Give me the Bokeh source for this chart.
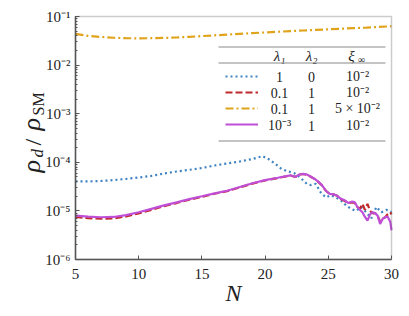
import math
from bokeh.plotting import figure
from bokeh.models import (Label, Legend, LegendItem, BoxAnnotation, LogTicker, LogAxis,
                          LinearAxis, SingleIntervalTicker, Range1d)
from bokeh.embed import file_html
from bokeh.resources import INLINE

# ---------------- data ----------------
N_blue = [5, 6, 7, 8, 9, 10, 11, 12, 13, 14, 15, 16, 17, 18, 19, 19.8, 20.3, 20.8,
          21.3, 21.8, 22.3, 22.8, 23.3, 23.6, 24.0, 24.4, 24.8, 25.2, 25.6, 26.0,
          26.4, 26.8, 27.2, 27.6, 28.0, 28.4, 28.8, 29.2, 29.6, 30]
rho_blue = [4.03e-5, 4.05e-5, 4.12e-5, 4.3e-5, 4.55e-5, 4.87e-5, 5.25e-5, 5.88e-5,
            6.47e-5, 7.0e-5, 7.64e-5, 8.6e-5, 9.45e-5, 1.04e-4, 1.17e-4, 1.34e-4,
            1.15e-4, 9.3e-5, 7.3e-5, 6.5e-5, 6.0e-5, 4.8e-5, 3.6e-5, 3.4e-5, 3.6e-5,
            2.4e-5, 1.9e-5, 2.1e-5, 1.9e-5, 1.64e-5, 1.3e-5, 1.1e-5, 1.0e-5, 1.2e-5,
            9.4e-6, 7.0e-6, 1.2e-5, 9.4e-6, 1.05e-5, 9.5e-6]

N_orange = [5, 6, 7, 8, 9, 10, 11, 12, 13, 14, 15, 16, 17, 18, 19, 20, 21, 22, 23,
            24, 25, 26, 27, 28, 29, 30]
rho_orange = [0.044, 0.040, 0.038, 0.0365, 0.0358, 0.0355, 0.0358, 0.0362, 0.037,
              0.0382, 0.0395, 0.041, 0.0425, 0.044, 0.0455, 0.047, 0.0485, 0.050,
              0.0515, 0.053, 0.0545, 0.056, 0.0575, 0.059, 0.061, 0.063]

N_fine = [5, 6, 7, 8, 9, 10, 11, 12, 13, 14, 15, 16, 17, 18, 19, 20, 21, 22, 22.4,
          22.7, 23.0, 23.3, 23.6, 23.9, 24.2, 24.5, 24.8, 25.1, 25.4, 25.7, 26.0,
          26.3, 26.6, 26.9, 27.1, 27.3, 27.5, 27.7, 27.9, 28.1, 28.3, 28.5, 28.7,
          28.9, 29.1, 29.3, 29.5, 29.7, 29.9, 30]
rho_magenta = [8.0e-6, 7.6e-6, 7.4e-6, 7.5e-6, 8.2e-6, 9.4e-6, 1.1e-5, 1.3e-5, 1.5e-5,
               1.75e-5, 2.0e-5, 2.3e-5, 2.6e-5, 3.1e-5, 3.7e-5, 4.3e-5, 4.8e-5, 5.4e-5,
               5.0e-5, 5.6e-5, 5.8e-5, 5.6e-5, 5.1e-5, 4.6e-5, 4.0e-5, 3.4e-5, 2.6e-5,
               2.25e-5, 2.2e-5, 2.05e-5, 1.77e-5, 1.65e-5, 1.45e-5, 1.55e-5, 1.5e-5,
               1.2e-5, 1.05e-5, 9.4e-6, 7.5e-6, 6.3e-6, 8.5e-6, 9.4e-6, 9.0e-6, 8.0e-6,
               5.4e-6, 6.9e-6, 7.4e-6, 7.6e-6, 6.0e-6, 4.0e-6]
rho_red = [7.5e-6, 7.1e-6, 6.9e-6, 7.0e-6, 7.7e-6, 8.9e-6, 1.05e-5, 1.25e-5, 1.45e-5,
           1.7e-5, 1.95e-5, 2.25e-5, 2.55e-5, 3.05e-5, 3.65e-5, 4.25e-5, 4.75e-5, 5.35e-5,
           5.0e-5, 5.55e-5, 5.75e-5, 5.55e-5, 5.05e-5, 4.55e-5, 3.95e-5, 3.35e-5, 2.6e-5,
           2.25e-5, 2.2e-5, 2.05e-5, 1.75e-5, 1.6e-5, 1.45e-5, 1.5e-5, 1.45e-5,
           1.2e-5, 1.1e-5, 1.4e-5, 1.05e-5, 1.4e-5, 1.0e-5, 9.0e-6, 9.0e-6, 8.0e-6,
           6.0e-6, 6.9e-6, 7.4e-6, 8.5e-6, 9.4e-6, 8.5e-6]

lambda1_labels = ["1", "0.1", "0.1", "10⁻³"]
lambda2_labels = ["0", "1", "1", "1"]
xi_labels = ["10⁻²", "10⁻²", "5 × 10⁻²", "10⁻²"]
header_labels = ["λ₁", "λ₂", "ξ", "∞"]

x_ticks = [5, 10, 15, 20, 25, 30]
x_tick_labels = ["5", "10", "15", "20", "25", "30"]
y_ticks = [1e-6, 1e-5, 1e-4, 1e-3, 1e-2, 1e-1]
y_tick_labels = ["10⁻⁶", "10⁻⁵", "10⁻⁴", "10⁻³", "10⁻²", "10⁻¹"]
x_label = "N"
X_MIN, X_MAX = 5, 30
Y_MIN, Y_MAX = 1e-6, 1e-1

# ---------------- layout (page pixels) ----------------
W, H = 409, 316
FRAME_L, FRAME_R, FRAME_T, FRAME_B = 0, 401, 8, 316   # plotting frame spans the page
BOX_L, BOX_R, BOX_T, BOX_B = 75, 391, 16, 259         # axes box of the chart
kx = (X_MAX - X_MIN) / (BOX_R - BOX_L)
ky = (math.log10(Y_MAX) - math.log10(Y_MIN)) / (BOX_B - BOX_T)
x_start = X_MIN - (BOX_L - FRAME_L) * kx
x_end = X_MAX + (FRAME_R - BOX_R) * kx
y_top = 10 ** (math.log10(Y_MAX) + (BOX_T - FRAME_T) * ky)
y_bot = 10 ** (math.log10(Y_MIN) - (FRAME_B - BOX_B) * ky)

SERIF = "Liberation Serif"
TXT = "#222222"
C_BLUE = "#3f83c2"
C_RED = "#c0282a"
C_ORANGE = "#e0a31c"
C_MAG = "#c04fd8"
AXC = "#555555"
RULE = "#8a8a8a"

p = figure(width=W, height=H, y_axis_type="log", output_backend="svg",
           toolbar_location=None, x_axis_location=None, y_axis_location=None,
           x_range=Range1d(x_start, x_end), y_range=Range1d(y_bot, y_top),
           min_border_left=FRAME_L, min_border_right=W - FRAME_R,
           min_border_top=FRAME_T, min_border_bottom=H - FRAME_B)
p.background_fill_color = "white"
p.border_fill_color = "white"
p.outline_line_alpha = 0
p.grid.visible = False

r_blue = p.line(N_blue, rho_blue, line_color=C_BLUE, line_width=2.2, line_dash="2 3")
r_red = p.line(N_fine, rho_red, line_color=C_RED, line_width=2.2, line_dash="7 3")
r_orange = p.line(N_orange, rho_orange, line_color=C_ORANGE, line_width=2.2,
                  line_dash="8 3 2 3")
r_mag = p.line(N_fine, rho_magenta, line_color=C_MAG, line_width=2.2)

# axes box
p.add_layout(BoxAnnotation(left=X_MIN, right=X_MAX, bottom=Y_MIN, top=Y_MAX,
                           fill_alpha=0, line_color=AXC, line_width=1.5))

# tick marks: axes fixed at the box edges, ticks pointing into the box
xa = LinearAxis(fixed_location=Y_MIN, bounds=(X_MIN, X_MAX),
                ticker=SingleIntervalTicker(interval=5, num_minor_ticks=0))
ya = LogAxis(fixed_location=X_MIN, bounds=(Y_MIN, Y_MAX),
             ticker=LogTicker(num_minor_ticks=10))
for ax in (xa, ya):
    ax.axis_line_color = AXC
    ax.axis_line_width = 1.5
    ax.major_tick_line_color = AXC
    ax.minor_tick_line_color = AXC
    ax.major_tick_in = 0
    ax.major_tick_out = 4
    ax.minor_tick_in = 0
    ax.minor_tick_out = 2
    ax.major_label_text_font_size = "2px"
    ax.major_label_text_alpha = 0
    ax.major_label_standoff = 0
p.add_layout(xa, "above")
p.add_layout(ya, "right")

# tick labels
for t, s in zip(x_ticks, x_tick_labels):
    p.add_layout(Label(x=t, y=Y_MIN, y_offset=-14, text=s, text_font=SERIF,
                       text_font_size="15px", text_color=TXT,
                       text_align="center", text_baseline="middle"))
for t, s in zip(y_ticks, y_tick_labels):
    p.add_layout(Label(x=X_MIN, y=t, x_offset=-5, text=s, text_font=SERIF,
                       text_font_size="15px", text_color=TXT,
                       text_align="right", text_baseline="middle"))
p.add_layout(Label(x=(X_MIN + X_MAX) / 2, y=Y_MIN, y_offset=-33, text=x_label,
                   text_font=SERIF, text_font_style="italic", text_font_size="24px",
                   text_color=TXT, text_align="center", text_baseline="middle"))

# y-axis label composed of pieces (rho_d / rho_SM)
def sl(text, X, Y, size, style="normal", angle=0.0, align="center", baseline="middle"):
    p.add_layout(Label(x=X - FRAME_L, y=FRAME_B - Y, x_units="screen", y_units="screen",
                       text=text, angle=angle, text_font=SERIF, text_font_size=size,
                       text_font_style=style, text_color=TXT,
                       text_align=align, text_baseline=baseline))

ROT = math.pi / 2
sl("ρ", 31, 172, "26px", "italic", ROT, "left", "alphabetic")
sl("d", 37, 157, "17px", "italic", ROT, "left", "alphabetic")
sl("/", 32, 145, "24px", "normal", ROT, "left", "alphabetic")
sl("ρ", 31, 130, "26px", "italic", ROT, "left", "alphabetic")
sl("SM", 38, 115, "16px", "normal", ROT, "left", "alphabetic")

# legend (line samples)
legend = Legend(items=[LegendItem(label=" ", renderers=[r]) for r in
                       (r_blue, r_red, r_orange, r_mag)],
                location=(225 - FRAME_L, FRAME_B - 132), orientation="vertical",
                padding=0, spacing=0, margin=0, glyph_width=33, glyph_height=16,
                label_height=16, label_width=1, label_standoff=0,
                border_line_alpha=0, background_fill_alpha=0, label_text_font_size="1px")
p.add_layout(legend, "center")

# legend table text
sl(header_labels[0], 279, 55, "15px", "italic")
sl(header_labels[1], 311, 55, "15px", "italic")
sl(header_labels[2], 351, 55, "15px", "italic")
sl(header_labels[3], 361, 59, "10px")
rows_Y = [76, 92, 108, 125]
for i, Y in enumerate(rows_Y):
    sl(lambda1_labels[i], 279, Y, "14px")
    sl(lambda2_labels[i], 311, Y, "14px")
    sl(xi_labels[i], 357, Y, "14px")

# table rules
for Y in (47, 63, 141):
    p.add_layout(BoxAnnotation(left=218 - FRAME_L, right=385 - FRAME_L,
                               top=FRAME_B - Y + 1, bottom=FRAME_B - Y,
                               left_units="screen", right_units="screen",
                               top_units="screen", bottom_units="screen",
                               fill_color=RULE, fill_alpha=1, line_alpha=0))

open("out.html", "w").write(file_html(p, INLINE))
